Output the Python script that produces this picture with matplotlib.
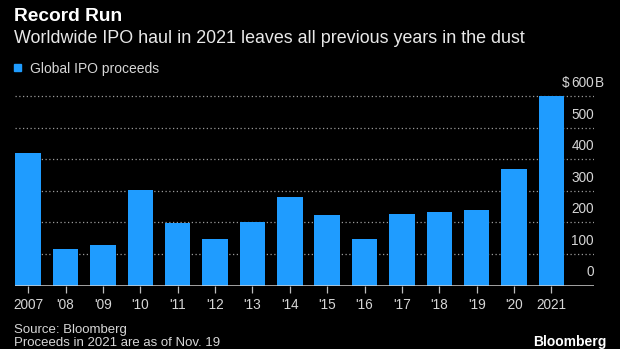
import matplotlib
matplotlib.use("Agg")
import matplotlib.pyplot as plt
import matplotlib.transforms as mtransforms
from matplotlib.patches import Rectangle

plt.rcParams['font.family'] = ['Liberation Sans', 'DejaVu Sans']

years = ['2007', "'08", "'09", "'10", "'11", "'12", "'13", "'14",
         "'15", "'16", "'17", "'18", "'19", "'20", '2021']
proceeds = [420, 115, 129, 303, 199, 147, 201, 279,
            222, 147, 225, 232, 238, 370, 600]
yticks = [0, 100, 200, 300, 400, 500, 600]

W, H = 620, 349
bg = '#000000'
blue = '#1f9cff'
light = '#d6d6d6'

fig = plt.figure(figsize=(W / 100, H / 100), dpi=100, facecolor=bg)

def fy(px):
    return 1 - px / H

# axes box in pixels: x 15..594, baseline at 285.5, top at 90
ax = fig.add_axes([15 / W, fy(285.5), 579 / W, (285.5 - 90) / H])
ax.set_facecolor(bg)

x = list(range(len(years)))
ax.bar(x, proceeds, width=0.68, color=blue, zorder=3)

ax.set_xlim(-0.353, 15.14)
ax.set_ylim(0, 619)

for v in yticks[1:]:
    ax.axhline(v, color='#9a9a9a', lw=0.9, ls=(0, (1, 2)), zorder=1)
ax.axhline(0, color='#cfcfcf', lw=1.1, zorder=4)

for s in ax.spines.values():
    s.set_visible(False)

ax.set_yticks([])
ax.set_xticks(x)
ax.set_xticklabels(years, fontsize=9.8, color=light)
ax.tick_params(axis='x', length=5, width=0.9, color='#bdbdbd', pad=4)

# value labels sit just above their gridlines at the right edge
ytrans = mtransforms.offset_copy(ax.get_yaxis_transform(), fig=fig,
                                 x=0, y=9, units='dots')
for v in yticks:
    ax.text(1.0, v, str(v), transform=ytrans, ha='right', va='baseline',
            fontsize=9.8, color=light)
dollar = mtransforms.offset_copy(ax.get_yaxis_transform(), fig=fig,
                                 x=-25, y=9, units='dots')
ax.text(1.0, 600, '$', transform=dollar, ha='right', va='baseline',
        fontsize=9.8, color=light)
unit = mtransforms.offset_copy(ax.get_yaxis_transform(), fig=fig,
                               x=0.5, y=9, units='dots')
ax.text(1.0, 600, 'B', transform=unit, ha='left', va='baseline',
        fontsize=9.8, color=light)

# header
fig.text(14 / W, fy(21), 'Record Run', fontsize=13.8, fontweight='bold',
         color='white', va='baseline')
fig.text(14 / W, fy(43), 'Worldwide IPO haul in 2021 leaves all previous years in the dust',
         fontsize=12.9, color='#e8e8e8', va='baseline')

# legend
fig.patches.append(Rectangle((14 / W, fy(71)), 7 / W, 7 / H,
                             transform=fig.transFigure, color=blue))
fig.text(30 / W, fy(73), 'Global IPO proceeds', fontsize=10,
         color=light, va='baseline')

# footer
fig.text(14 / W, fy(333), 'Source: Bloomberg', fontsize=9.5,
         color=light, va='baseline')
fig.text(14 / W, fy(346), 'Proceeds in 2021 are as of Nov. 19', fontsize=9.5,
         color=light, va='baseline')
fig.text(606 / W, fy(346), 'Bloomberg', fontsize=10, fontweight='bold',
         color='white', va='baseline', ha='right')

fig.savefig('out.png', dpi=100, facecolor=bg)
